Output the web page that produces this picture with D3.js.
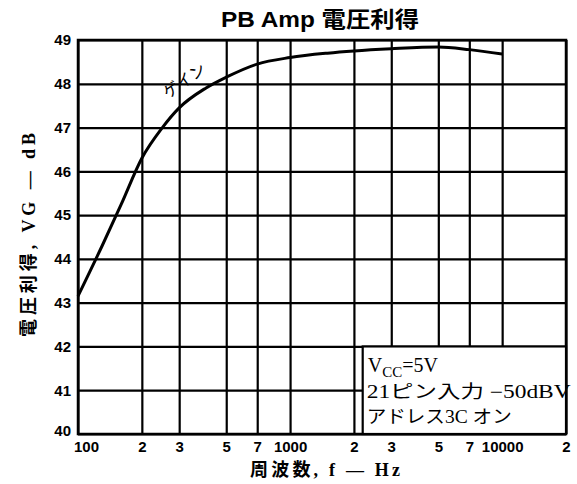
<!DOCTYPE html>
<html><head><meta charset="utf-8">
<script src="https://cdn.jsdelivr.net/npm/d3@7"></script>
<style>
body{margin:0;background:#fff;}
svg{display:block;}
</style></head>
<body>
<svg id="c" width="577" height="484"></svg>
<script>
const freqs = [100, 130, 160, 200, 250, 300, 400, 500, 700, 1000, 1500, 2000, 3000, 5000, 7000, 10000];
const gainDb = [43.15, 44.3, 45.25, 46.3, 47.0, 47.45, 47.9, 48.15, 48.45, 48.6, 48.7, 48.75, 48.8, 48.84, 48.78, 48.68];
const xTickValues = [100, 200, 300, 500, 700, 1000, 2000, 3000, 5000, 7000, 10000, 20000];
const xTickLabels = ["100", "2", "3", "5", "7", "1000", "2", "3", "5", "7", "10000", "2"];
const yTickValues = [40, 41, 42, 43, 44, 45, 46, 47, 48, 49];
const legendLines = ["21ピン入力 −50dBV", "アドレス3C オン"];

const svg = d3.select("#c");
const L = 78, R = 566, T = 40, B = 434;
const x = d3.scaleLog().domain([100, 20000]).range([L, R]);
const y = d3.scaleLinear().domain([40, 49]).range([B, T]);

// grid
const gx = svg.append("g").attr("transform", `translate(0,${B})`)
  .call(d3.axisBottom(x).tickValues(xTickValues).tickSize(-(B - T)).tickFormat(""));
gx.select(".domain").remove();
gx.selectAll("line").attr("stroke", "#000").attr("stroke-width", 2.2);
const gy = svg.append("g").attr("transform", `translate(${L},0)`)
  .call(d3.axisLeft(y).tickValues(yTickValues).tickSize(-(R - L)).tickFormat(""));
gy.select(".domain").remove();
gy.selectAll("line").attr("stroke", "#000").attr("stroke-width", 2.2);

// frame
svg.append("rect").attr("x", L).attr("y", T).attr("width", R - L).attr("height", B - T)
  .attr("fill", "none").attr("stroke", "#000").attr("stroke-width", 2.5);

// curve
const line = d3.line().x((d, i) => x(freqs[i])).y(d => y(d)).curve(d3.curveMonotoneX);
svg.append("path").datum(gainDb).attr("d", line)
  .attr("fill", "none").attr("stroke", "#000").attr("stroke-width", 3);

// legend box
const bx = x(2200), by = y(42);
svg.append("rect").attr("x", bx).attr("y", by).attr("width", R - bx).attr("height", B - by)
  .attr("fill", "#fff").attr("stroke", "#000").attr("stroke-width", 2.2);
const serif = "'Liberation Serif','Noto Sans CJK JP',serif";
const t1 = svg.append("text").attr("x", bx + 5).attr("y", by + 26)
  .attr("font-family", serif).attr("font-size", 20).attr("fill", "#000");
t1.append("tspan").text("V");
t1.append("tspan").attr("dy", 5).attr("font-size", 15).text("CC");
t1.append("tspan").attr("dy", -5).text("=5V");
svg.selectAll("text.leg").data(legendLines).join("text").attr("class", "leg")
  .attr("x", bx + 4).attr("y", (d, i) => by + 52 + i * 25)
  .attr("font-family", serif).attr("font-size", 18).attr("fill", "#000")
  .attr("textLength", (d, i) => i === 0 ? 204 : 145).attr("lengthAdjust", "spacingAndGlyphs")
  .text(d => d);

// curve label
svg.append("text").attr("x", 168).attr("y", 99).attr("transform", "rotate(-35,168,99)")
  .attr("font-family", "'Noto Sans CJK JP',sans-serif").attr("font-size", 16).attr("fill", "#000")
  .text("ゲイン");

// tick labels
const bold = "'Liberation Sans','DejaVu Sans',sans-serif";
const ax = svg.append("g").attr("transform", `translate(0,${B})`)
  .call(d3.axisBottom(x).tickValues(xTickValues).tickSize(0).tickPadding(7)
    .tickFormat((d, i) => xTickLabels[i]));
ax.select(".domain").remove();
ax.selectAll("text").attr("font-family", bold).attr("font-weight", "bold").attr("font-size", 15)
  .attr("fill", "#000").attr("dx", (d, i) => i === 0 ? 8 : 0);
const ay = svg.append("g").attr("transform", `translate(${L},0)`)
  .call(d3.axisLeft(y).tickValues(yTickValues).tickSize(0).tickPadding(7));
ay.select(".domain").remove();
ay.selectAll("text").attr("font-family", bold).attr("font-weight", "bold").attr("font-size", 15)
  .attr("fill", "#000").attr("dy", d => d === 40 ? "0.1em" : "0.32em");

// titles
svg.append("text").attr("x", 320).attr("y", 27).attr("text-anchor", "middle")
  .attr("font-family", "'Liberation Sans','Noto Sans CJK JP',sans-serif").attr("font-weight", "bold")
  .attr("font-size", 22).attr("fill", "#000")
  .attr("textLength", 198).attr("lengthAdjust", "spacingAndGlyphs").text("PB Amp 電圧利得");
svg.append("text").attr("x", 325).attr("y", 476).attr("text-anchor", "middle")
  .attr("font-family", "'Liberation Serif','Noto Sans CJK JP',serif").attr("font-weight", "bold")
  .attr("font-size", 18).attr("fill", "#000")
  .attr("textLength", 150).attr("lengthAdjust", "spacing").text("周波数, f — Hz");
svg.append("text").attr("transform", "translate(35,235) rotate(-90)").attr("text-anchor", "middle")
  .attr("font-family", "'Liberation Serif','Noto Sans CJK JP',serif").attr("font-weight", "bold")
  .attr("font-size", 18).attr("fill", "#000")
  .attr("textLength", 204).attr("lengthAdjust", "spacing").text("電圧利得, VG — dB");
</script>
</body></html>
